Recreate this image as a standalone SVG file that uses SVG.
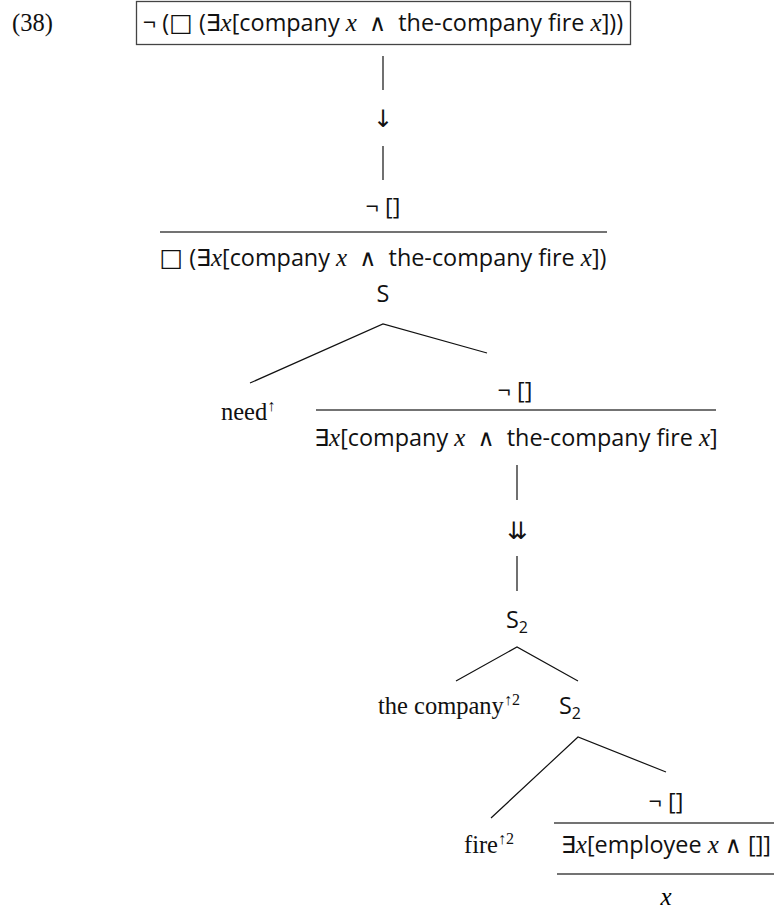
<svg xmlns="http://www.w3.org/2000/svg" width="774" height="911" viewBox="0 0 774 911">
<style>
.s{font-family:"Open Sans","DejaVu Sans",sans-serif;font-size:23.4px;fill:#111}
.r{font-family:"Liberation Serif",serif;font-size:24.5px;fill:#111}
.i{font-family:"Liberation Serif",serif;font-style:italic;font-size:25px}
.sq{font-family:"DejaVu Sans",sans-serif;font-size:25px}
.sup{font-size:16px}
.ar{font-family:"DejaVu Sans",sans-serif;font-size:24px;fill:#111;text-anchor:middle}
.tree{stroke:#111;stroke-width:1.2;fill:none}
.frac{stroke:#444;stroke-width:1.6;fill:none}
.c{text-anchor:middle}
</style>
<rect width="774" height="911" fill="#fff"/>
<text class="r" x="12" y="31">(38)</text>
<g id="top">
<rect x="136.5" y="1.5" width="494" height="43" fill="none" stroke="#444" stroke-width="1.3"/>
<text class="s c" x="383" y="31" xml:space="preserve">¬ (<tspan class="sq">□</tspan> (∃<tspan class="i">x</tspan>[company <tspan class="i">x</tspan>  ∧  the-company fire <tspan class="i">x</tspan>]))</text>
</g>
<g id="connectors">
<line class="tree" x1="383" y1="56" x2="383" y2="90"/>
<line class="tree" x1="383" y1="146" x2="383" y2="180"/>
<line class="tree" x1="517" y1="465" x2="517" y2="500"/>
<line class="tree" x1="517" y1="556" x2="517" y2="591"/>
<polyline class="tree" points="250,383 383,324 487,353"/>
<polyline class="tree" points="456,681 517,647 578,681"/>
<polyline class="tree" points="491,818 578,737 666,772"/>
</g>
<g id="arrow1"><text class="ar" x="383" y="127">↓</text></g>
<g id="node1">
<text class="s c" x="383" y="215" xml:space="preserve">¬ []</text>
<line class="frac" x1="160" y1="232" x2="607" y2="232"/>
<text class="s c" x="383" y="266" xml:space="preserve"><tspan class="sq">□</tspan> (∃<tspan class="i">x</tspan>[company <tspan class="i">x</tspan>  ∧  the-company fire <tspan class="i">x</tspan>])</text>
</g>
<g id="S"><text class="s c" x="383" y="302">S</text></g>
<g id="need"><text class="r" x="221" y="420">need<tspan class="sup" dy="-9">↑</tspan></text></g>
<g id="node2">
<text class="s c" x="515" y="399" xml:space="preserve">¬ []</text>
<line class="frac" x1="316" y1="410" x2="716" y2="410"/>
<text class="s c" x="516" y="446" xml:space="preserve">∃<tspan class="i">x</tspan>[company <tspan class="i">x</tspan>  ∧  the-company fire <tspan class="i">x</tspan>]</text>
</g>
<g id="arrow2"><text class="ar" x="517" y="539">⇊</text></g>
<g id="S2a"><text class="s c" x="517" y="628">S<tspan class="sup" dy="5">2</tspan></text></g>
<g id="company"><text class="r" x="378" y="714">the company<tspan class="sup" dy="-9">↑2</tspan></text></g>
<g id="S2b"><text class="s c" x="570" y="714">S<tspan class="sup" dy="5">2</tspan></text></g>
<g id="fire"><text class="r" x="464" y="853">fire<tspan class="sup" dy="-9">↑2</tspan></text></g>
<g id="node3">
<text class="s c" x="666" y="810" xml:space="preserve">¬ []</text>
<line class="frac" x1="554" y1="823" x2="778" y2="823"/>
<text class="s c" x="666" y="853">∃<tspan class="i">x</tspan>[employee <tspan class="i">x</tspan> ∧ []]</text>
<line class="frac" x1="557" y1="874" x2="775" y2="874"/>
<text class="i c" x="666" y="905">x</text>
</g>
</svg>
